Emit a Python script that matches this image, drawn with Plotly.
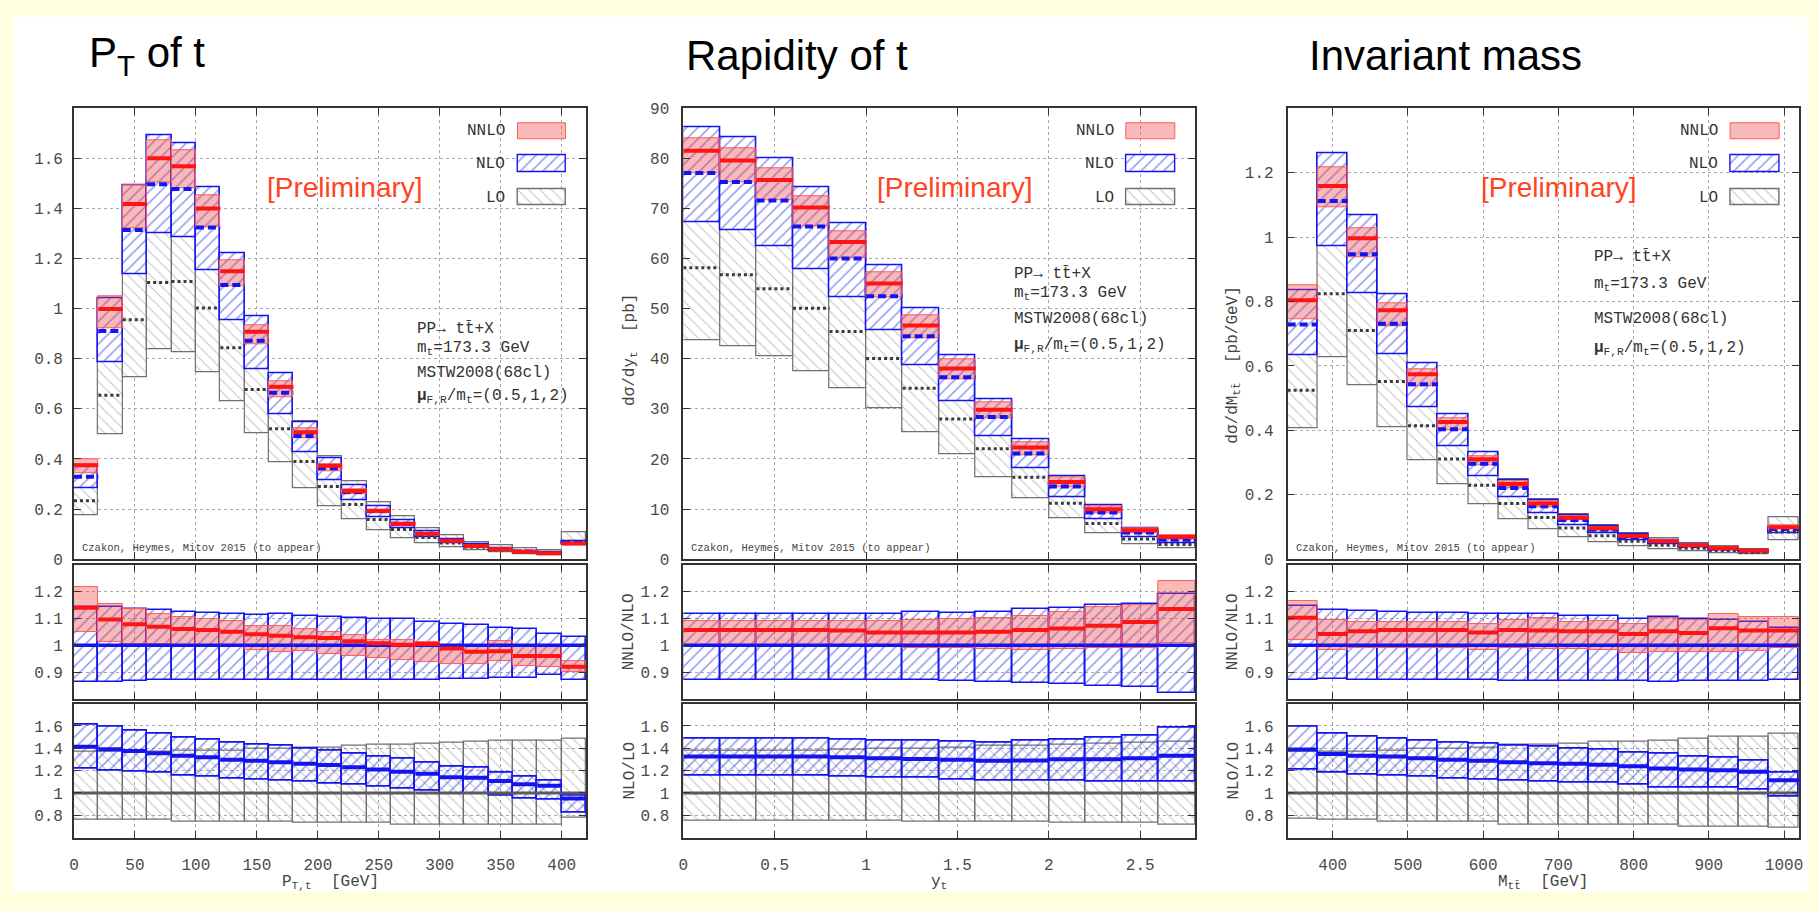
import plotly.graph_objects as go

W, H = 1818, 911

# ---------------- data ----------------
# Panel 1: transverse momentum of t  (20 GeV bins, last bin = overflow)
pt_edges = [0, 20, 40, 60, 80, 100, 120, 140, 160, 180, 200, 220, 240, 260, 280, 300, 320, 340, 360, 380, 400, 420]
pt_nlo = [0.329, 0.911, 1.314, 1.497, 1.478, 1.324, 1.094, 0.872, 0.664, 0.492, 0.363, 0.268, 0.192, 0.141, 0.101,
          0.074, 0.054, 0.041, 0.031, 0.025, 0.068]
pt_nnlo_ratio = [1.14, 1.096, 1.079, 1.069, 1.061, 1.057, 1.051, 1.041, 1.036, 1.03, 1.027, 1.015, 1.008, 1.002, 1.005,
                 0.988, 0.976, 0.978, 0.96, 0.96, 0.92]
pt_nnlo_ratio_lo = [1.048, 1.012, 1.005, 1.005, 1.002, 1.0, 0.995, 0.984, 0.976, 0.978, 0.966, 0.96, 0.954, 0.944, 0.936,
                    0.93, 0.93, 0.942, 0.924, 0.92, 0.9]
pt_nnlo_ratio_hi = [1.218, 1.154, 1.136, 1.118, 1.105, 1.097, 1.09, 1.072, 1.072, 1.061, 1.048, 1.039, 1.021, 1.02, 1.012,
                    1.002, 1.0, 1.015, 1.0, 0.995, 0.94]
pt_nlo_band_lo = [0.863, 0.863, 0.867, 0.869, 0.869, 0.871, 0.871, 0.871, 0.871, 0.871, 0.869, 0.871, 0.871, 0.869, 0.871,
                  0.875, 0.875, 0.879, 0.879, 0.887, 0.87]
pt_nlo_band_hi = [1.142, 1.144, 1.136, 1.13, 1.124, 1.121, 1.118, 1.114, 1.115, 1.11, 1.105, 1.1, 1.097, 1.097, 1.087,
                  1.081, 1.075, 1.063, 1.06, 1.041, 1.03]
pt_nlo_over_lo = [1.413, 1.392, 1.375, 1.355, 1.334, 1.32, 1.297, 1.288, 1.276, 1.262, 1.25, 1.23, 1.209, 1.19, 1.172,
                  1.14, 1.137, 1.108, 1.078, 1.064, 0.95]
pt_lo_band_lo = [0.76, 0.76, 0.76, 0.76, 0.745, 0.745, 0.745, 0.745, 0.745, 0.73, 0.73, 0.73, 0.73, 0.715, 0.715,
                 0.715, 0.715, 0.715, 0.715, 0.715, 0.78]
pt_lo_band_hi = [1.37, 1.37, 1.37, 1.37, 1.38, 1.38, 1.38, 1.4, 1.4, 1.41, 1.41, 1.42, 1.43, 1.43, 1.44,
                 1.455, 1.46, 1.47, 1.47, 1.47, 1.49]

# Panel 2: rapidity of t (0.2 bins)
y_edges = [0, 0.2, 0.4, 0.6, 0.8, 1.0, 1.2, 1.4, 1.6, 1.8, 2.0, 2.2, 2.4, 2.6, 2.8]
y_nlo = [77.1, 75.3, 71.6, 66.4, 60.0, 52.5, 44.5, 36.3, 28.4, 21.1, 14.5, 9.3, 5.3, 3.9]
y_nnlo_ratio = [1.057, 1.057, 1.057, 1.057, 1.055, 1.048, 1.048, 1.048, 1.051, 1.057, 1.063, 1.073, 1.087, 1.136]
y_nnlo_ratio_lo = [1.0, 1.0, 1.0, 1.0, 1.0, 0.995, 0.99, 0.99, 0.987, 0.984, 0.987, 0.99, 0.99, 1.008]
y_nnlo_ratio_hi = [1.09, 1.09, 1.09, 1.09, 1.09, 1.092, 1.095, 1.097, 1.1, 1.11, 1.124, 1.142, 1.15, 1.242]
y_nlo_band_lo = [0.871, 0.871, 0.871, 0.871, 0.871, 0.869, 0.869, 0.866, 0.863, 0.859, 0.855, 0.847, 0.842, 0.823]
y_nlo_band_hi = [1.118, 1.118, 1.118, 1.118, 1.118, 1.118, 1.124, 1.122, 1.124, 1.136, 1.138, 1.15, 1.154, 1.19]
y_nlo_over_lo = [1.326, 1.326, 1.326, 1.326, 1.32, 1.311, 1.305, 1.297, 1.288, 1.29, 1.302, 1.302, 1.311, 1.334]
y_lo_band_lo = [0.75, 0.75, 0.75, 0.75, 0.75, 0.75, 0.745, 0.745, 0.745, 0.74, 0.735, 0.735, 0.73, 0.72]
y_lo_band_hi = [1.38, 1.38, 1.38, 1.38, 1.39, 1.4, 1.4, 1.41, 1.42, 1.42, 1.43, 1.44, 1.45, 1.46]

# Panel 3: invariant mass (40 GeV bins, last bin = overflow)
m_edges = [340, 380, 420, 460, 500, 540, 580, 620, 660, 700, 740, 780, 820, 860, 900, 940, 980, 1020]
m_nlo = [0.729, 1.112, 0.947, 0.731, 0.543, 0.403, 0.296, 0.221, 0.164, 0.122, 0.091, 0.069, 0.053, 0.041, 0.032,
         0.025, 0.094]
m_nnlo_ratio = [1.103, 1.042, 1.052, 1.057, 1.057, 1.057, 1.048, 1.057, 1.055, 1.052, 1.052, 1.042, 1.052, 1.046,
                1.064, 1.055, 1.055]
m_nnlo_ratio_lo = [1.02, 0.982, 0.99, 0.99, 0.99, 0.99, 0.984, 0.99, 0.987, 0.987, 0.982, 0.972, 0.975, 0.975, 0.976,
                   0.979, 0.988]
m_nnlo_ratio_hi = [1.167, 1.093, 1.085, 1.085, 1.085, 1.085, 1.079, 1.093, 1.1, 1.085, 1.091, 1.079, 1.103, 1.093,
                   1.115, 1.105, 1.105]
m_nlo_band_lo = [0.87, 0.875, 0.871, 0.871, 0.871, 0.869, 0.869, 0.868, 0.867, 0.868, 0.868, 0.867, 0.863, 0.867,
                 0.867, 0.865, 0.871]
m_nlo_band_hi = [1.145, 1.133, 1.127, 1.124, 1.121, 1.12, 1.118, 1.115, 1.115, 1.109, 1.109, 1.099, 1.107, 1.097,
                 1.093, 1.085, 1.064]
m_nlo_over_lo = [1.39, 1.349, 1.334, 1.326, 1.311, 1.297, 1.288, 1.276, 1.267, 1.262, 1.253, 1.238, 1.218, 1.209,
                 1.203, 1.189, 1.113]
m_lo_band_lo = [0.773, 0.759, 0.759, 0.744, 0.744, 0.744, 0.744, 0.715, 0.715, 0.715, 0.715, 0.715, 0.715, 0.7, 0.7,
                0.7, 0.686]
m_lo_band_hi = [1.37, 1.37, 1.37, 1.38, 1.4, 1.4, 1.41, 1.43, 1.43, 1.44, 1.46, 1.46, 1.47, 1.49, 1.5, 1.5, 1.53]

# Axis ticks / labels
pt_xticks = [0, 50, 100, 150, 200, 250, 300, 350, 400]
y_xticks = [0, 0.5, 1, 1.5, 2, 2.5]
y_xticklabels = ["0", "0.5", "1", "1.5", "2", "2.5"]
m_xticks = [400, 500, 600, 700, 800, 900, 1000]
pt_yticks = [0, 0.2, 0.4, 0.6, 0.8, 1.0, 1.2, 1.4, 1.6]
pt_yticklabels = ["0", "0.2", "0.4", "0.6", "0.8", "1", "1.2", "1.4", "1.6"]
y_yticks = [0, 10, 20, 30, 40, 50, 60, 70, 80, 90]
m_yticks = [0, 0.2, 0.4, 0.6, 0.8, 1.0, 1.2]
m_yticklabels = ["0", "0.2", "0.4", "0.6", "0.8", "1", "1.2"]
r1_ticks = [0.9, 1.0, 1.1, 1.2]
r1_labels = ["0.9", "1", "1.1", "1.2"]
r2_ticks = [0.8, 1.0, 1.2, 1.4, 1.6]
r2_labels = ["0.8", "1", "1.2", "1.4", "1.6"]

titles = ["P<sub>T</sub> of t", "Rapidity of t", "Invariant mass"]
xtitles = ["P<sub>T,t</sub>  [GeV]", "y<sub>t</sub>", "M<sub>tt&#772;</sub>  [GeV]"]
ytitles_top = [None, "d&#963;/dy<sub>t</sub>  [pb]", "d&#963;/dM<sub>tt&#772;</sub>  [pb/GeV]"]
legend_names = ["NNLO", "NLO", "LO"]
info_lines = ["PP&#8594; tt&#772;+X", "m<sub>t</sub>=173.3 GeV", "MSTW2008(68cl)",
              "<b>&#956;</b><sub>F,R</sub>/m<sub>t</sub>=(0.5,1,2)"]

# ---------------- layout geometry (pixels) ----------------
cols = [(69.3, 584.0), (681.7, 1196.0), (1289.0, 1803.0)]
rows = [(103.3, 563.3), (569.3, 705.7), (710.7, 847.3)]
xranges = [[0, 420], [0, 2.8], [340, 1020]]
top_yranges = [[0, 1.8], [0, 90], [0, 1.4]]

BLUE = "#1414f0"
BLUE_H = "#3040e6"
RED = "#ff1414"
PINK = "rgba(240,60,60,0.36)"
PINK_LINE = "#ff5a5a"
GRAY = "#707070"
GRAY_H = "#8a8a8a"
MONO = "Liberation Mono, Courier New, monospace"
SANS = "Liberation Sans, Arial, sans-serif"


def sfx(k):
    return "" if k == 1 else str(k)


fig = go.Figure()


def add_boxes(edges, lo, hi, k, color, line_color, line_width, shape=None, hcol=None, sol=0.16):
    centers = [(edges[i] + edges[i + 1]) / 2 for i in range(len(lo))]
    widths = [edges[i + 1] - edges[i] for i in range(len(lo))]
    marker = dict(color=color, line=dict(color=line_color, width=line_width))
    if shape:
        marker["pattern"] = dict(shape=shape, fgcolor=hcol, size=8, solidity=sol, fillmode="overlay")
    fig.add_trace(go.Bar(x=centers, y=[h - l for l, h in zip(lo, hi)], base=lo, width=widths,
                         marker=marker, xaxis="x" + sfx(k), yaxis="y" + sfx(k),
                         showlegend=False, hoverinfo="skip"))


def add_segs(edges, vals, k, color, width, dash="solid"):
    xs, ys = [], []
    for i, v in enumerate(vals):
        xs += [edges[i], edges[i + 1], None]
        ys += [v, v, None]
    fig.add_trace(go.Scatter(x=xs, y=ys, mode="lines", line=dict(color=color, width=width, dash=dash),
                             xaxis="x" + sfx(k), yaxis="y" + sfx(k), showlegend=False, hoverinfo="skip"))


panels = [
    (pt_edges, pt_nlo, pt_nnlo_ratio, pt_nnlo_ratio_lo, pt_nnlo_ratio_hi, pt_nlo_band_lo, pt_nlo_band_hi,
     pt_nlo_over_lo, pt_lo_band_lo, pt_lo_band_hi),
    (y_edges, y_nlo, y_nnlo_ratio, y_nnlo_ratio_lo, y_nnlo_ratio_hi, y_nlo_band_lo, y_nlo_band_hi,
     y_nlo_over_lo, y_lo_band_lo, y_lo_band_hi),
    (m_edges, m_nlo, m_nnlo_ratio, m_nnlo_ratio_lo, m_nnlo_ratio_hi, m_nlo_band_lo, m_nlo_band_hi,
     m_nlo_over_lo, m_lo_band_lo, m_lo_band_hi),
]

HS_B, HS_G = 0.2, 0.14

for p, (edges, nlo, nr, nrl, nrh, nbl, nbh, nol, lbl, lbh) in enumerate(panels):
    kt, k1, k2 = 3 * p + 1, 3 * p + 2, 3 * p + 3
    n = len(nlo)
    nnlo = [nlo[i] * nr[i] for i in range(n)]
    nnlo_lo = [nlo[i] * nrl[i] for i in range(n)]
    nnlo_hi = [nlo[i] * nrh[i] for i in range(n)]
    nlo_lo = [nlo[i] * nbl[i] for i in range(n)]
    nlo_hi = [nlo[i] * nbh[i] for i in range(n)]
    lo = [nlo[i] / nol[i] for i in range(n)]
    lo_lo = [lo[i] * lbl[i] for i in range(n)]
    lo_hi = [lo[i] * lbh[i] for i in range(n)]

    # top panel
    add_boxes(edges, lo_lo, lo_hi, kt, "white", GRAY, 1.2, "\\", GRAY_H, HS_G)
    add_boxes(edges, nlo_lo, nlo_hi, kt, "white", BLUE, 1.6, "/", BLUE_H, HS_B)
    add_boxes(edges, nnlo_lo, nnlo_hi, kt, PINK, PINK_LINE, 1.0)
    add_segs(edges, lo, kt, "#3a3a3a", 3, "3px,3px")
    add_segs(edges, nlo, kt, BLUE, 4, "8px,4px")
    add_segs(edges, nnlo, kt, RED, 4)

    # ratio NNLO/NLO
    add_boxes(edges, nbl, nbh, k1, "rgba(0,0,0,0)", BLUE, 1.6, "/", BLUE_H, HS_B)
    add_boxes(edges, nrl, nrh, k1, PINK, PINK_LINE, 1.0)
    add_segs(edges, [nlo[i] / nlo[i] for i in range(n)], k1, BLUE, 3.5)
    add_segs(edges, nr, k1, RED, 4)

    # ratio NLO/LO
    add_boxes(edges, lbl, lbh, k2, "rgba(0,0,0,0)", GRAY, 1.2, "\\", GRAY_H, HS_G)
    add_boxes(edges, [nbl[i] * nol[i] for i in range(n)], [nbh[i] * nol[i] for i in range(n)], k2,
              "rgba(0,0,0,0)", BLUE, 1.6, "/", BLUE_H, HS_B)
    add_segs(edges, [lo[i] / lo[i] for i in range(n)], k2, "#5a5a5a", 3)
    add_segs(edges, nol, k2, BLUE, 4)

    # legend swatches on an overlay axis (0..1 within the top panel)
    kl = 10 + p
    sw_y = [0.949, 0.877, 0.802]
    styles = [(PINK, PINK_LINE, None, None, HS_B), ("white", BLUE, "/", BLUE_H, HS_B),
              ("white", GRAY, "\\", GRAY_H, HS_G)]
    for j, (c, lc, shp, hc, so) in enumerate(styles):
        add_boxes([0.866, 0.961], [sw_y[j] - 0.018], [sw_y[j] + 0.018], kl, c, lc, 1.4 if shp else 1.0, shp, hc, so)

# ---------------- axes ----------------
layout_axes = {}
xtick_sets = [(pt_xticks, [str(v) for v in pt_xticks]), (y_xticks, y_xticklabels),
              (m_xticks, [str(v) for v in m_xticks])]
ytop_sets = [(pt_yticks, pt_yticklabels), (y_yticks, [str(v) for v in y_yticks]), (m_yticks, m_yticklabels)]
common = dict(showline=True, linecolor="#333333", linewidth=1.6, mirror="ticks", ticks="inside", ticklen=7,
              tickwidth=1.3, tickcolor="#333333", showgrid=True, gridcolor="#a8a8a8", griddash="dot",
              gridwidth=1, zeroline=False, fixedrange=True,
              tickfont=dict(family=MONO, size=16, color="#4a4a4a"))
for p in range(3):
    x0, x1 = cols[p]
    for r in range(3):
        k = 3 * p + r + 1
        y0, y1 = rows[r]
        xa = dict(common, domain=[x0 / W, x1 / W], anchor="y" + sfx(k), range=xranges[p],
                  tickvals=xtick_sets[p][0], ticktext=xtick_sets[p][1], showticklabels=(r == 2),
                  ticklabelstandoff=11)
        if r == 0:
            yv, yt, yr = ytop_sets[p][0], ytop_sets[p][1], top_yranges[p]
        elif r == 1:
            yv, yt, yr = r1_ticks, r1_labels, [0.8, 1.3]
        else:
            yv, yt, yr = r2_ticks, r2_labels, [0.6, 1.8]
        ya = dict(common, domain=[1 - y1 / H, 1 - y0 / H], anchor="x" + sfx(k), range=yr,
                  tickvals=yv, ticktext=yt, ticklabelstandoff=(6 if p == 0 else 9))
        layout_axes["xaxis" + sfx(k)] = xa
        layout_axes["yaxis" + sfx(k)] = ya
    kl = 10 + p
    layout_axes["xaxis%d" % kl] = dict(overlaying="x" + sfx(3 * p + 1), anchor="y%d" % kl, range=[0, 1],
                                       visible=False, fixedrange=True)
    layout_axes["yaxis%d" % kl] = dict(overlaying="y" + sfx(3 * p + 1), anchor="x%d" % kl, range=[0, 1],
                                       visible=False, fixedrange=True)

# ---------------- annotations ----------------
ann = []
title_x = [82, 682, 1308]
for p in range(3):
    ann.append(dict(text=titles[p], x=title_x[p] / W, y=1 - 49 / H, xref="paper", yref="paper",
                    xanchor="left", yanchor="middle", showarrow=False,
                    font=dict(family=SANS, size=42, color="black")))
    kt = 3 * p + 1
    dx, dy = "x" + sfx(kt) + " domain", "y" + sfx(kt) + " domain"
    ann.append(dict(text="[Preliminary]", x=0.53, y=0.825, xref=dx, yref=dy, showarrow=False,
                    xanchor="center", yanchor="middle", font=dict(family=SANS, size=28, color="#ff4422")))
    ann.append(dict(text="Czakon, Heymes, Mitov 2015 (to appear)", x=0.012, y=0.025, xref=dx, yref=dy,
                    showarrow=False, xanchor="left", yanchor="middle",
                    font=dict(family=MONO, size=10.5, color="#444444")))
    for j, name in enumerate(legend_names):
        ann.append(dict(text=name, x=0.845, y=[0.949, 0.877, 0.802][j], xref=dx, yref=dy, showarrow=False,
                        xanchor="right", yanchor="middle", font=dict(family=MONO, size=16, color="#333333")))
    info_x = [0.666, 0.642, 0.595][p]
    info_y = [[328, 348, 373, 397], [272, 292, 318, 345], [255, 283, 318, 348]][p]
    for j, line in enumerate(info_lines):
        ann.append(dict(text=line, x=info_x, y=(rows[0][1] - info_y[j]) / (rows[0][1] - rows[0][0]),
                        xref=dx, yref=dy, showarrow=False, xanchor="left", yanchor="middle",
                        font=dict(family=MONO, size=16, color="#333333")))
    # x-axis title
    ann.append(dict(text=xtitles[p], x=(cols[p][0] + cols[p][1]) / 2 / W, y=1 - 893 / H, xref="paper",
                    yref="paper", showarrow=False, xanchor="center", yanchor="middle",
                    font=dict(family=MONO, size=16, color="#444444")))
    # y-axis titles
    if p > 0:
        yx = [None, 628, 1235][p]
        ycen = [[None, None, None], [350, 637, 779], [365, 637, 779]][p]
        for r, txt in enumerate([ytitles_top[p], "NNLO/NLO", "NLO/LO"]):
            ann.append(dict(text=txt, x=yx / W, y=1 - ycen[r] / H, xref="paper",
                            yref="paper", showarrow=False, textangle=-90, xanchor="center", yanchor="middle",
                            font=dict(family=MONO, size=16, color="#444444")))

fig.update_layout(
    width=W, height=H, autosize=False, margin=dict(l=0, r=0, t=0, b=0),
    paper_bgcolor="#ffffe0", plot_bgcolor="white", barmode="overlay", bargap=0, showlegend=False,
    shapes=[dict(type="rect", xref="paper", yref="paper", x0=8 / W, x1=1811 / W, y0=1 - 902 / H, y1=1 - 10 / H,
                 fillcolor="white", line=dict(width=0), layer="below")],
    annotations=ann,
    **layout_axes,
)

fig.write_html("out.html")
